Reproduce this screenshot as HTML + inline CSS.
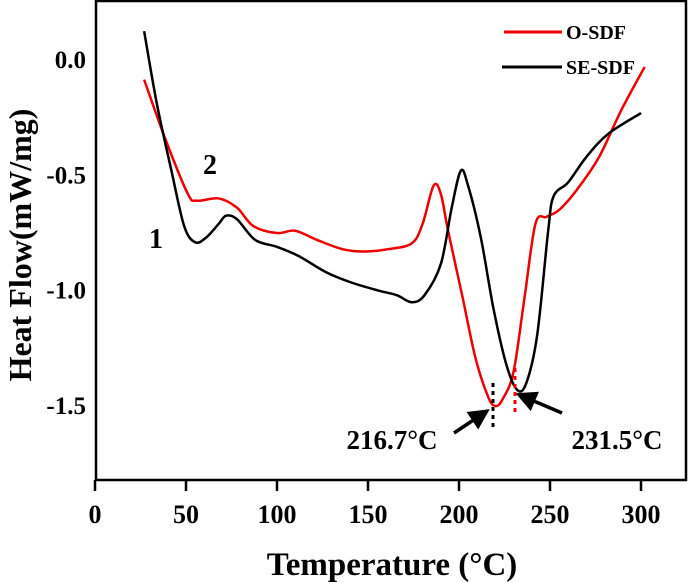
<!DOCTYPE html>
<html><head><meta charset="utf-8"><style>
html,body{margin:0;padding:0;background:#fff;}
svg{display:block;font-family:"Liberation Serif",serif;font-weight:bold;}
</style></head><body>
<svg id="chart" width="689" height="583" viewBox="0 0 689 583">
<rect x="96" y="1" width="590" height="479" fill="none" stroke="#000" stroke-width="2.5"/>
<g id="xticks"></g>
<g id="yticks"></g>
<g id="series"></g>
<text x="392" y="575" font-size="33" text-anchor="middle">Temperature (°C)</text>
<text transform="translate(31,245) rotate(-90)" font-size="32" text-anchor="middle">Heat Flow(mW/mg)</text>
<line x1="504" y1="32" x2="562" y2="32" stroke="#e00" stroke-width="3"/>
<text x="566" y="39" font-size="20">O-SDF</text>
<line x1="502" y1="67" x2="562" y2="67" stroke="#000" stroke-width="3"/>
<text x="566" y="74" font-size="20">SE-SDF</text>
<text x="156" y="248" font-size="28" text-anchor="middle">1</text>
<text x="210" y="174" font-size="28" text-anchor="middle">2</text>
<text x="392" y="449" font-size="27" text-anchor="middle">216.7°C</text>
<text x="617" y="449" font-size="27" text-anchor="middle">231.5°C</text>
<defs><marker id="ah" markerWidth="6" markerHeight="6" refX="4" refY="3" orient="auto"><path d="M0,0 L6,3 L0,6 Z" fill="#000"/></marker></defs>
<line x1="454" y1="433" x2="484" y2="413" stroke="#000" stroke-width="3.5" marker-end="url(#ah)"/>
<line x1="562" y1="413" x2="522" y2="396" stroke="#000" stroke-width="3.5" marker-end="url(#ah)"/>
<line x1="493" y1="383" x2="493" y2="431" stroke="#000" stroke-width="3" stroke-dasharray="4,4"/>
<line x1="515" y1="368" x2="515" y2="414" stroke="#e00" stroke-width="3" stroke-dasharray="4,4"/>
</svg>
<script>
const xTicks=[0,50,100,150,200,250,300];
const yTicks=[0.0,-0.5,-1.0,-1.5];
const yTickLabels=["0.0","-0.5","-1.0","-1.5"];
const oTemp=[27,39,51,56,68,78,87,100,110,122,136,148,161,174,180,186,190,194,202,209,216,220,224,230,236,242,248,255,265,277,289,302];
const oHeat=[-0.085,-0.35,-0.58,-0.61,-0.6,-0.64,-0.72,-0.75,-0.74,-0.78,-0.82,-0.83,-0.82,-0.795,-0.71,-0.545,-0.58,-0.74,-1.03,-1.29,-1.46,-1.5,-1.47,-1.35,-1.03,-0.71,-0.68,-0.65,-0.56,-0.42,-0.22,-0.03];
const seTemp=[27,34,42,49,55,61,68,72,78,88,100,112,127,141,156,166,174,181,190,196,201,205,212,219,226,232,237,243,249,252,260,270,282,300];
const seHeat=[0.125,-0.19,-0.48,-0.72,-0.79,-0.77,-0.71,-0.675,-0.69,-0.78,-0.81,-0.85,-0.92,-0.965,-1.0,-1.02,-1.05,-1.02,-0.885,-0.64,-0.48,-0.545,-0.77,-1.08,-1.32,-1.43,-1.40,-1.19,-0.74,-0.59,-0.53,-0.42,-0.32,-0.23];
const NS='http://www.w3.org/2000/svg';
function sx(t){return 95+t*1.82;}
function sy(v){return 60-v*230.7;}
const xg=document.getElementById('xticks');
xTicks.forEach(t=>{
 const l=document.createElementNS(NS,'line');
 l.setAttribute('x1',sx(t));l.setAttribute('x2',sx(t));l.setAttribute('y1',480);l.setAttribute('y2',491);
 l.setAttribute('stroke','#000');l.setAttribute('stroke-width','2.5');
 
 
 xg.appendChild(l);
 const tx=document.createElementNS(NS,'text');
 tx.setAttribute('x',sx(t));tx.setAttribute('y',523);tx.setAttribute('font-size','26');tx.setAttribute('text-anchor','middle');
 tx.textContent=t;
 
 
 xg.appendChild(tx);
});
const yg=document.getElementById('yticks');
yTicks.forEach((v,i)=>{
 const tx=document.createElementNS(NS,'text');
 tx.setAttribute('x',86);tx.setAttribute('y',sy(v)+8);tx.setAttribute('font-size','25');tx.setAttribute('text-anchor','end');
 tx.textContent=yTickLabels[i];
 
 
 yg.appendChild(tx);
});
function pathD(xs,ys){
 const p=xs.map((t,i)=>[sx(t),sy(ys[i])]);
 let d='M'+p[0][0]+','+p[0][1];
 for(let i=0;i<p.length-1;i++){
  const p0=p[Math.max(i-1,0)],p1=p[i],p2=p[i+1],p3=p[Math.min(i+2,p.length-1)];
  const c1=[p1[0]+(p2[0]-p0[0])/6,p1[1]+(p2[1]-p0[1])/6];
  const c2=[p2[0]-(p3[0]-p1[0])/6,p2[1]-(p3[1]-p1[1])/6];
  d+=' C'+c1+' '+c2+' '+p2;
 }
 return d;
}
const sg=document.getElementById('series');
const pr=document.createElementNS(NS,'path');
pr.setAttribute('d',pathD(oTemp,oHeat));pr.setAttribute('fill','none');pr.setAttribute('stroke','#e00');pr.setAttribute('stroke-width','2.5');


sg.appendChild(pr);
const pb=document.createElementNS(NS,'path');
pb.setAttribute('d',pathD(seTemp,seHeat));pb.setAttribute('fill','none');pb.setAttribute('stroke','#000');pb.setAttribute('stroke-width','2.5');


sg.appendChild(pb);
</script>
</body></html>
